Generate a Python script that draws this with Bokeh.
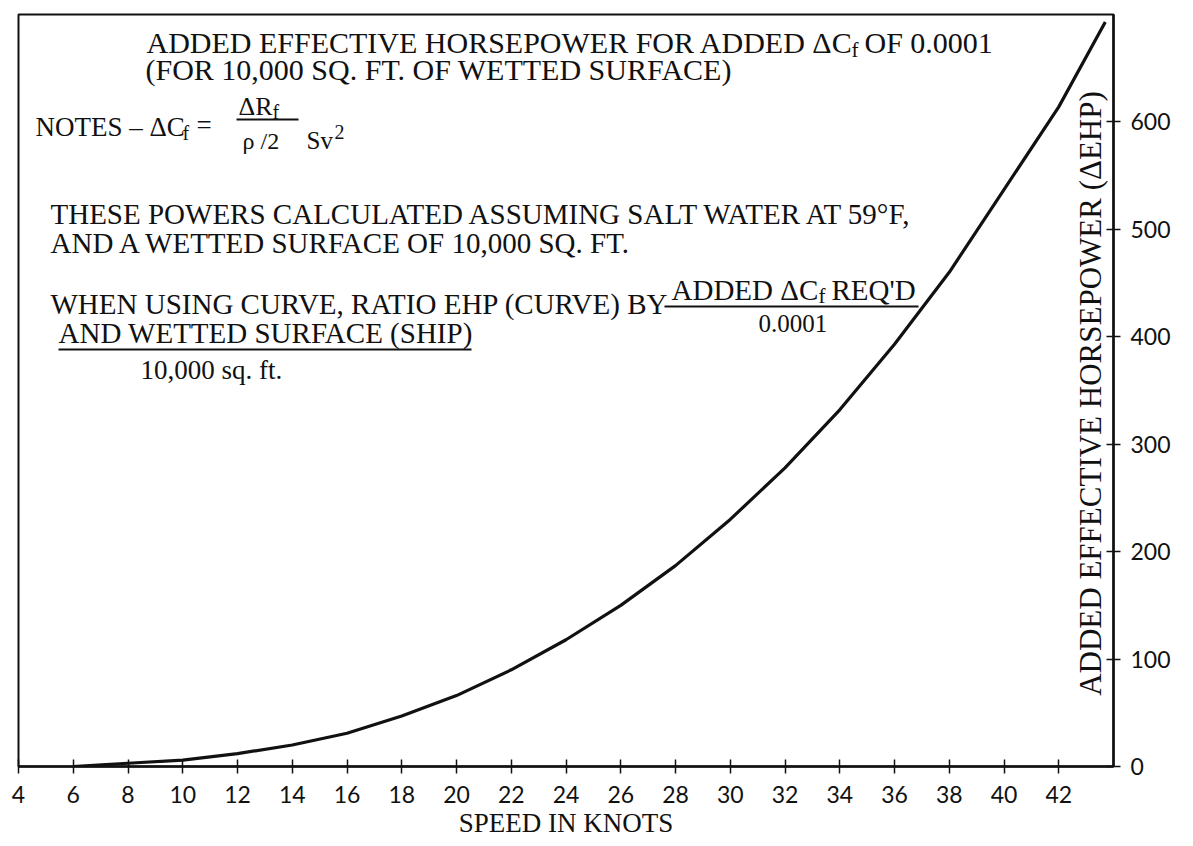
import math
from bokeh.plotting import figure
from bokeh.models import Label, FixedTicker
from bokeh.embed import file_html
from bokeh.resources import INLINE

# ---- data ----
speed_knots = [6, 8, 10, 12, 14, 16, 18, 20, 22, 24, 26, 28, 30, 32, 34, 36, 38, 40, 42, 43.7]
added_ehp = [0, 3, 6, 12, 20, 31, 47, 66, 90, 118, 150, 187, 230, 278, 332, 393, 460, 537, 614, 693]
x_ticks = [4, 6, 8, 10, 12, 14, 16, 18, 20, 22, 24, 26, 28, 30, 32, 34, 36, 38, 40, 42]
y_ticks = [0, 100, 200, 300, 400, 500, 600]

SERIF = "Liberation Serif"
SANS = "Lato"
INK = "#111111"

FRAME_W, FRAME_H = 1095, 752
X0, X1 = 4, 44
Y0, Y1 = 0, 700
LEFT_PX, TOP_PX = 18, 14   # picture position of the frame's top-left corner


def dx(px):
    return X0 + (px - LEFT_PX) / FRAME_W * (X1 - X0)


def dy(py):
    return Y1 - (py - TOP_PX) / FRAME_H * (Y1 - Y0)


p = figure(frame_width=FRAME_W, frame_height=FRAME_H,
           x_range=(X0, X1), y_range=(Y0, Y1),
           y_axis_location="right",
           output_backend="svg", toolbar_location=None,
           min_border_left=LEFT_PX, min_border_top=TOP_PX,
           min_border_right=4, min_border_bottom=0)

p.background_fill_color = "white"
p.border_fill_color = "white"
p.outline_line_color = INK
p.outline_line_width = 2
p.xgrid.visible = False
p.ygrid.visible = False

for ax in (p.xaxis[0], p.yaxis[0]):
    ax.axis_line_color = INK
    ax.axis_line_width = 2.5
    ax.major_tick_line_color = INK
    ax.major_tick_line_width = 1.5
    ax.major_tick_in = 7
    ax.major_tick_out = 7
    ax.minor_tick_line_color = None
    ax.major_label_text_font = SANS
    ax.major_label_text_font_size = "23px"
    ax.major_label_text_color = INK

p.xaxis.ticker = FixedTicker(ticks=x_ticks)
p.yaxis.ticker = FixedTicker(ticks=y_ticks)
p.xaxis.major_label_standoff = 12
p.yaxis.major_label_standoff = 10
p.xaxis.axis_label = "SPEED IN KNOTS"
p.xaxis.axis_label_text_font = SERIF
p.xaxis.axis_label_text_font_style = "normal"
p.xaxis.axis_label_text_font_size = "27px"
p.xaxis.axis_label_text_color = INK
p.xaxis.axis_label_standoff = 2

# curve
p.line(speed_knots, added_ehp, line_color=INK, line_width=3.2)


def lab(text, px, py, size=29, align="left", baseline="middle", font=SERIF, angle=0):
    p.add_layout(Label(x=dx(px), y=dy(py), text=text, text_font=font,
                       text_font_size=f"{size}px", text_color=INK,
                       text_align=align, text_baseline=baseline, angle=angle))


def hline(px0, px1, py, w=2):
    p.segment(x0=[dx(px0)], y0=[dy(py)], x1=[dx(px1)], y1=[dy(py)],
              line_color=INK, line_width=w)


# title lines
lab("ADDED EFFECTIVE HORSEPOWER FOR ADDED \u0394C", 146, 42, size=30)
lab("f", 851, 49, size=21)
lab("OF 0.0001", 864, 42, size=30)
lab("(FOR 10,000 SQ. FT. OF WETTED SURFACE)", 145, 69, size=30)

# notes formula
lab("NOTES \u2013 \u0394C", 35, 126, size=27)
lab("f", 182, 132, size=20)
lab("=", 196, 124, size=27)
lab("\u0394R", 238, 106, size=26)
lab("f", 272, 111, size=20)
hline(236, 298, 119)
lab("\u03c1 /2", 242, 140, size=24)
lab("Sv", 306, 140, size=25)
lab("2", 334, 131, size=20)

lab("THESE POWERS CALCULATED ASSUMING SALT WATER AT 59\u00b0F,", 50, 213)
lab("AND A WETTED SURFACE OF 10,000 SQ. FT.", 50, 242)

lab("WHEN USING CURVE, RATIO EHP (CURVE) BY", 50, 303)
lab("ADDED \u0394C", 671, 289)
lab("f", 818, 295, size=21)
lab("REQ'D", 831, 289)
hline(664, 918, 306)
lab("0.0001", 758, 323, size=25)
lab("AND WETTED SURFACE (SHIP)", 58, 332)
hline(58, 471, 349)
lab("10,000 sq. ft.", 140, 369, size=27)

# right axis title, drawn inside the frame
lab("ADDED EFFECTIVE HORSEPOWER (\u0394EHP)", 1090, 393, size=31,
    align="center", angle=math.pi / 2)

open("out.html", "w").write(file_html(p, INLINE))
